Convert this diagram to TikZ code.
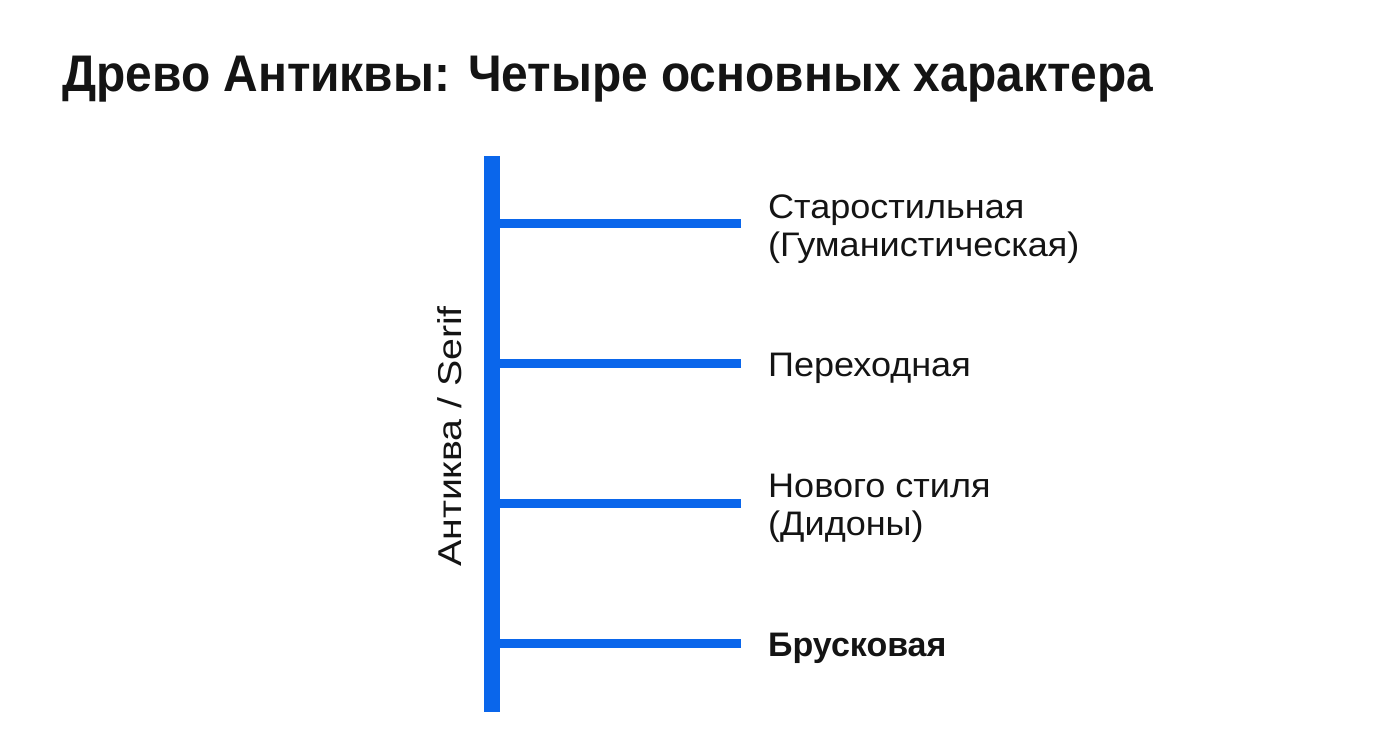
\documentclass[tikz,border=0pt]{standalone}
\usepackage{fontspec}
\setmainfont{Liberation Sans}
\newfontfamily\titlefont[FakeStretch=0.93]{Liberation Sans}
\newfontfamily\labelfont[FakeStretch=1.06]{Liberation Sans}
\newfontfamily\axisfont[FakeStretch=1.19]{Liberation Sans}
\definecolor{treeblue}{RGB}{10,102,235}
\definecolor{ink}{RGB}{20,20,20}
\begin{document}
\begin{tikzpicture}[x=1pt,y=1pt,
  branchlabel/.style={anchor=base west,inner sep=0pt,text=ink,font=\labelfont\fontsize{34}{38}\selectfont,align=left},
  branch/.style={draw=treeblue,line width=9pt},
  trunk/.style={draw=treeblue,line width=16pt}]
\useasboundingbox[fill=white] (0,0) rectangle (1376,-748);
\node[anchor=base west,inner sep=0pt,text=ink,font=\titlefont\fontsize{51.5}{60}\selectfont\bfseries] (title) at (62,-91) {Древо Антиквы: Четыре основных характера};
\coordinate (top) at (492,-156);
\coordinate (bot) at (492,-712);
\draw[trunk] (top) -- (bot);
\coordinate (b1) at (500,-223);
\coordinate (b2) at (500,-363);
\coordinate (b3) at (500,-503);
\coordinate (b4) at (500,-643);
\coordinate (e1) at (741,-223);
\coordinate (e2) at (741,-363);
\coordinate (e3) at (741,-503);
\coordinate (e4) at (741,-643);
\draw[branch] (b1) -- (e1);
\draw[branch] (b2) -- (e2);
\draw[branch] (b3) -- (e3);
\draw[branch] (b4) -- (e4);
\node[branchlabel] (l1) at (768,-256) {Старостильная\\(Гуманистическая)};
\node[branchlabel] (l2) at (768,-376) {Переходная};
\node[branchlabel] (l3) at (768,-535) {Нового стиля\\(Дидоны)};
\node[branchlabel,font=\fontsize{34}{38}\selectfont\bfseries] (l4) at (768,-656) {Брусковая};
\node[anchor=base west,inner sep=0pt,text=ink,rotate=90,font=\axisfont\fontsize{33}{38}\selectfont] (axis) at (461,-567) {Антиква / Serif};
\end{tikzpicture}
\end{document}
